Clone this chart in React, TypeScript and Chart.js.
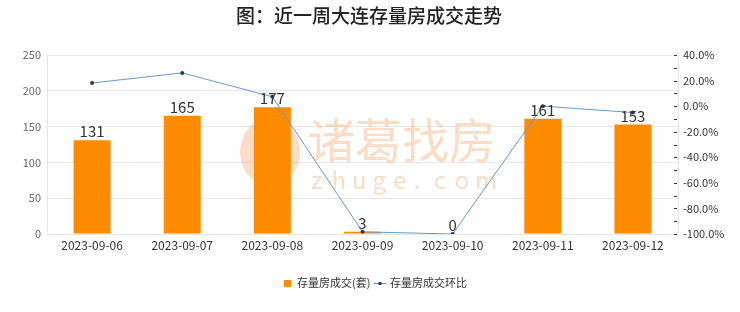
import React, { useEffect, useRef } from "react";
import { Chart, registerables } from "chart.js";

Chart.register(...registerables);

const categories = ["2023-09-06", "2023-09-07", "2023-09-08", "2023-09-09", "2023-09-10", "2023-09-11", "2023-09-12"];
const volumes = [131, 165, 177, 3, 0, 161, 153];
const changeRates = [18.1, 26.0, 7.3, -98.3, -100, 0, -5.0];
const titleText = "图：近一周大连存量房成交走势";
const barLabel = "存量房成交(套)";
const lineLabel = "存量房成交环比";

const FONT = "'Noto Sans CJK SC', 'Noto Sans', sans-serif";

const overlayPlugin = {
  id: "overlay",
  beforeDatasetsDraw(chart: any) {
    const { ctx } = chart;
    ctx.save();
    // watermark
    ctx.fillStyle = "rgba(245, 165, 105, 0.38)";
    ctx.font = `47px ${FONT}`;
    ctx.textBaseline = "middle";
    ctx.textAlign = "left";
    ctx.fillText("诸葛找房", 308, 140);
    ctx.font = `24px ${FONT}`;
    const z = "zhuge.com";
    let x = 311;
    for (const ch of z) {
      ctx.fillText(ch, x, 180);
      x += 20.5;
    }
    // logo
    ctx.beginPath();
    ctx.ellipse(270, 152, 30, 34, 0, 0, Math.PI * 2);
    ctx.fill();
    ctx.restore();
  },
  afterDraw(chart: any) {
    const { ctx, chartArea } = chart;
    ctx.save();
    // title
    ctx.fillStyle = "#222";
    ctx.font = `500 19px ${FONT}`;
    ctx.textAlign = "center";
    ctx.textBaseline = "middle";
    ctx.fillText(titleText, 369, 16);
    // right axis inner tick marks
    const y1 = chart.scales.y1;
    ctx.strokeStyle = "#333";
    ctx.lineWidth = 1;
    for (let v = -100; v <= 40; v += 10) {
      const y = Math.round(y1.getPixelForValue(v)) + 0.5;
      ctx.beginPath();
      ctx.moveTo(chartArea.right - 4, y);
      ctx.lineTo(chartArea.right - 1, y);
      ctx.stroke();
    }
    // bar value labels
    const meta = chart.getDatasetMeta(0);
    ctx.fillStyle = "#333";
    ctx.font = `15px ${FONT}`;
    ctx.textAlign = "center";
    ctx.textBaseline = "bottom";
    meta.data.forEach((el: any, i: number) => {
      ctx.fillText(String(volumes[i]), el.x, el.y - 1);
    });
    // legend
    ctx.font = `11px ${FONT}`;
    ctx.textBaseline = "middle";
    ctx.textAlign = "left";
    ctx.fillStyle = "#FF8C00";
    ctx.fillRect(284, 280, 7, 7);
    ctx.fillStyle = "#333";
    ctx.fillText(barLabel, 297, 283);
    ctx.strokeStyle = "#5b8fc7";
    ctx.beginPath();
    ctx.moveTo(374, 283.5);
    ctx.lineTo(386, 283.5);
    ctx.stroke();
    ctx.fillStyle = "#1f3b5c";
    ctx.beginPath();
    ctx.arc(380, 283.5, 1.8, 0, Math.PI * 2);
    ctx.fill();
    ctx.fillStyle = "#333";
    ctx.fillText(lineLabel, 390, 283);
    ctx.restore();
  },
};

export default function App() {
  const ref = useRef<HTMLCanvasElement>(null);
  useEffect(() => {
    if (!ref.current) return;
    const chart = new Chart(ref.current, {
      type: "bar",
      data: {
        labels: categories,
        datasets: [
          {
            type: "bar",
            label: barLabel,
            data: volumes,
            backgroundColor: "#FF8C00",
            yAxisID: "y",
            categoryPercentage: 1,
            barPercentage: 0.41,
            order: 2,
          },
          {
            type: "line",
            label: lineLabel,
            data: changeRates,
            borderColor: "#6699cc",
            borderWidth: 1,
            pointRadius: 2,
            pointBackgroundColor: "#1f3b5c",
            pointBorderColor: "#1f3b5c",
            pointBorderWidth: 0,
            yAxisID: "y1",
            tension: 0,
            order: 1,
          } as any,
        ],
      },
      options: {
        responsive: false,
        animation: false,
        devicePixelRatio: 1,
        layout: { padding: { top: 55, left: 0, right: 0, bottom: 0 } },
        plugins: {
          legend: { display: false },
          title: { display: false },
          tooltip: { enabled: false },
        },
        scales: {
          x: {
            grid: { display: false, drawTicks: false },
            border: { display: true, color: "#e6e6e6" },
            ticks: { color: "#333", font: { size: 12, family: FONT }, padding: 4, maxRotation: 0 },
            afterFit: (s: any) => { s.height = 78; },
          },
          y: {
            position: "left",
            min: 0,
            max: 250,
            ticks: { stepSize: 50, color: "#666", font: { size: 11, family: FONT }, padding: 6 },
            grid: { color: "#e8e8e8", drawTicks: false },
            border: { display: true, color: "#e6e6e6" },
            afterFit: (s: any) => { s.width = 47; },
          },
          y1: {
            position: "right",
            min: -100,
            max: 40,
            ticks: {
              stepSize: 20,
              color: "#333",
              font: { size: 11, family: FONT },
              padding: 5,
              callback: (v: any) => Number(v).toFixed(1) + "%",
            },
            grid: { drawOnChartArea: false, drawTicks: false },
            border: { display: true, color: "#e6e6e6" },
            afterFit: (s: any) => { s.width = 62; },
          },
        },
      },
      plugins: [overlayPlugin],
    });
    return () => chart.destroy();
  }, []);
  return (
    <div style={{ position: "fixed", left: 0, top: 0, width: 740, height: 312, background: "#fff" }}>
      <canvas ref={ref} width={740} height={312} style={{ display: "block" }} />
    </div>
  );
}
